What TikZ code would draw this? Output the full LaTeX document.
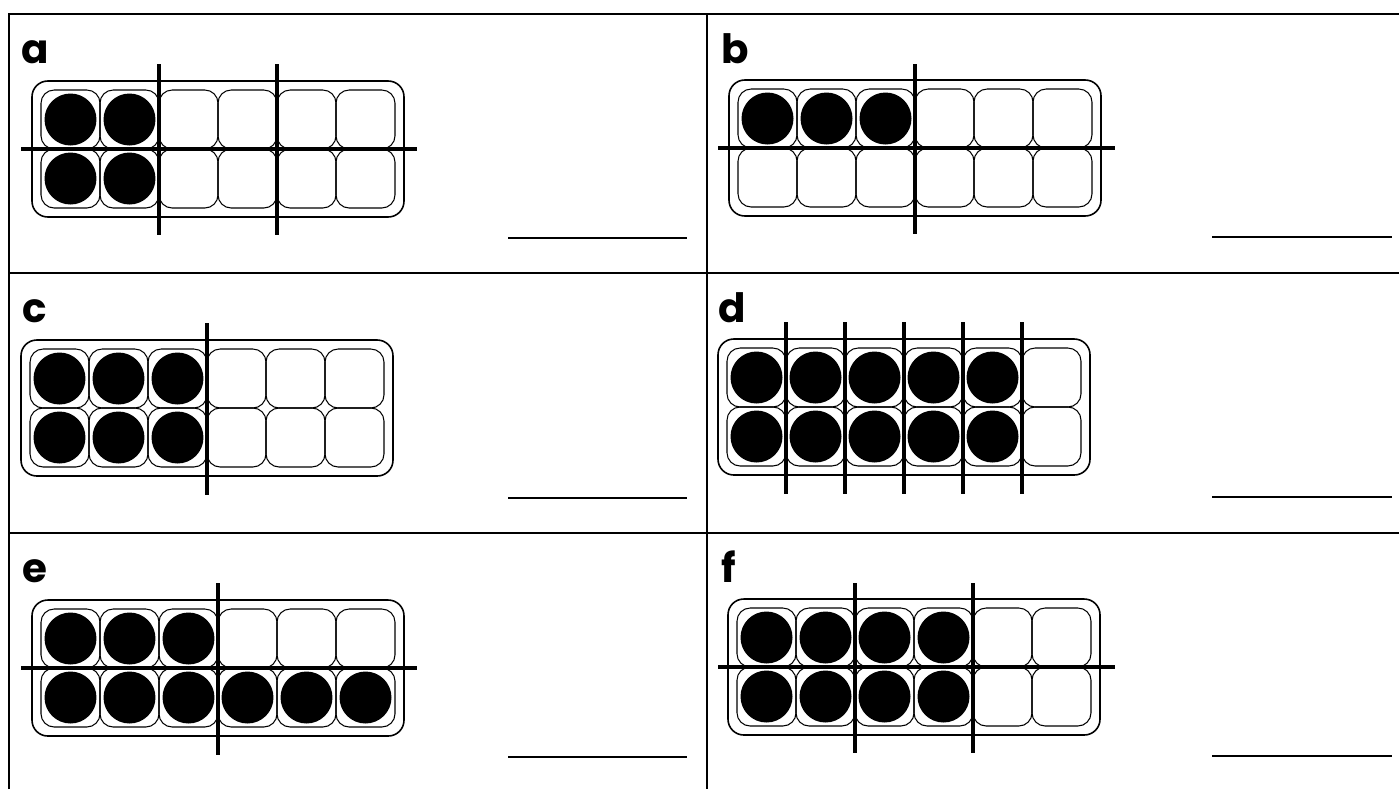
\documentclass[tikz,border=0pt]{standalone}
\usepackage{fontspec}
\newfontfamily\panelfont{Poppins}
\usepackage{tikz}
\usetikzlibrary{positioning}
\tikzset{trayline/.style={draw,line width=0.9pt,rounded corners=9pt},
  cell/.style={draw,line width=0.6pt,rounded corners=7.5pt},
  cut/.style={line width=2.2pt},
  rule/.style={line width=1.4pt},
  answer/.style={line width=0.9pt},
  lbl/.style={anchor=base west,inner sep=0pt,font=\panelfont\bfseries\fontsize{23}{25}\selectfont},
  tray/.pic={
    \draw[trayline] (0,0) rectangle (372,136);
    \foreach \c in {0,...,5} \foreach \r in {0,1}
      \draw[cell] ({9+59*\c},{9+59*\r}) rectangle ++(59,59);
  }}

\begin{document}
\begin{tikzpicture}[x=0.02cm,y=-0.02cm]
\useasboundingbox (0,0) rectangle (1399,789);
% frame
\draw[rule] (9,789)--(9,14)--(1399,14);
\draw[rule] (9,273)--(1399,273);
\draw[rule] (9,533)--(1399,533);
\draw[rule] (707,14)--(707,789);
% a
\begin{scope}[shift={(32,81)}]
\pic {tray};
\foreach \c/\r in {0/0,1/0,0/1,1/1} \fill ({38.5+59*\c},{38.5+59*\r}) circle (0.52cm);
\draw[cut] (-11,68)--(385,68);
\foreach \k in {2,4} \draw[cut] ({9+59*\k},-17)--({9+59*\k},154);
\end{scope}
\node[lbl] (la) at (21,63) {a};
\draw[answer] (508,238)--(687,238);
% b
\begin{scope}[shift={(729,80)}]
\pic {tray};
\foreach \c in {0,1,2} \fill ({38.5+59*\c},38.5) circle (0.52cm);
\draw[cut] (-11,68)--(386,68);
\draw[cut] (186,-16)--(186,154);
\end{scope}
\node[lbl] (lb) at (721,63) {b};
\draw[answer] (1212,237)--(1392,237);
% c
\begin{scope}[shift={(21,340)}]
\pic {tray};
\foreach \c in {0,1,2} \foreach \r in {0,1} \fill ({38.5+59*\c},{38.5+59*\r}) circle (0.52cm);
\draw[cut] (186,-17)--(186,155);
\end{scope}
\node[lbl] (lc) at (22,322) {c};
\draw[answer] (508,498)--(687,498);
% d
\begin{scope}[shift={(718,339)}]
\pic {tray};
\foreach \c in {0,...,4} \foreach \r in {0,1} \fill ({38.5+59*\c},{38.5+59*\r}) circle (0.52cm);
\foreach \k in {1,...,5} \draw[cut] ({9+59*\k},-17)--({9+59*\k},155);
\end{scope}
\node[lbl] (ld) at (718,322) {d};
\draw[answer] (1212,497)--(1392,497);
% e
\begin{scope}[shift={(32,600)}]
\pic {tray};
\foreach \c in {0,1,2} \fill ({38.5+59*\c},38.5) circle (0.52cm);
\foreach \c in {0,...,5} \fill ({38.5+59*\c},97.5) circle (0.52cm);
\draw[cut] (-11,68)--(385,68);
\draw[cut] (186,-17)--(186,155);
\end{scope}
\node[lbl] (le) at (22,582) {e};
\draw[answer] (508,757)--(687,757);
% f
\begin{scope}[shift={(728,599)}]
\pic {tray};
\foreach \c in {0,...,3} \foreach \r in {0,1} \fill ({38.5+59*\c},{38.5+59*\r}) circle (0.52cm);
\draw[cut] (-10,68)--(387,68);
\foreach \k in {2,4} \draw[cut] ({9+59*\k},-16)--({9+59*\k},154);
\end{scope}
\node[lbl] (lf) at (721,582) {f};
\draw[answer] (1212,756)--(1392,756);
\end{tikzpicture}
\end{document}
